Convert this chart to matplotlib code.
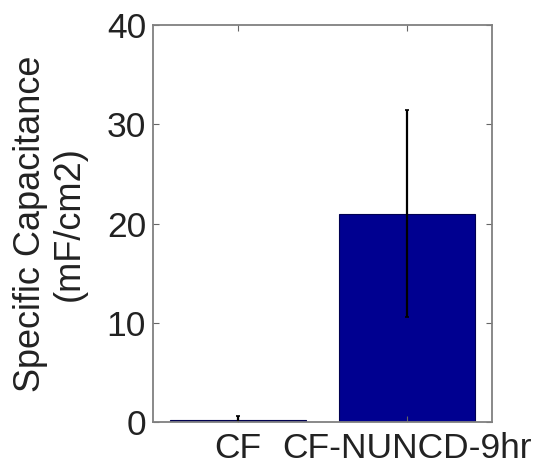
import matplotlib.pyplot as plt

plt.rcParams['font.family'] = ['Liberation Sans', 'DejaVu Sans']

# Data
samples = ['CF', 'CF-NUNCD-9hr']
capacitance = [0.2, 21.0]
cap_err = [0.4, 10.4]

fig = plt.figure(figsize=(5.36, 4.65), dpi=100)
ax = fig.add_axes([0.2854, 0.0925, 0.6326, 0.8537])

x = range(1, len(samples) + 1)
ax.bar(x, capacitance, width=0.8, color='#000090', edgecolor='#000050', linewidth=0.8)
ax.errorbar(x, capacitance, yerr=cap_err, fmt='none', ecolor='black',
            elinewidth=1.6, capsize=1.5, capthick=1.2)

ax.set_xlim(0.5, 2.5)
ax.set_ylim(0, 40)
ax.set_xticks(list(x))
ax.set_xticklabels(samples)
ax.set_yticks([0, 10, 20, 30, 40])
ax.tick_params(direction='in', top=True, right=True, length=4, width=0.8,
               labelsize=25.5, colors='#666666', labelcolor='#222222')
ax.tick_params(axis='x', pad=7)
ax.tick_params(axis='y', pad=5)
for s in ax.spines.values():
    s.set_color('#808080')
    s.set_linewidth(1.3)

ax.set_ylabel('Specific Capacitance\n(mF/cm2)', fontsize=26, color='#222222',
              linespacing=1.15, labelpad=14)

fig.savefig('out.png', dpi=100)
